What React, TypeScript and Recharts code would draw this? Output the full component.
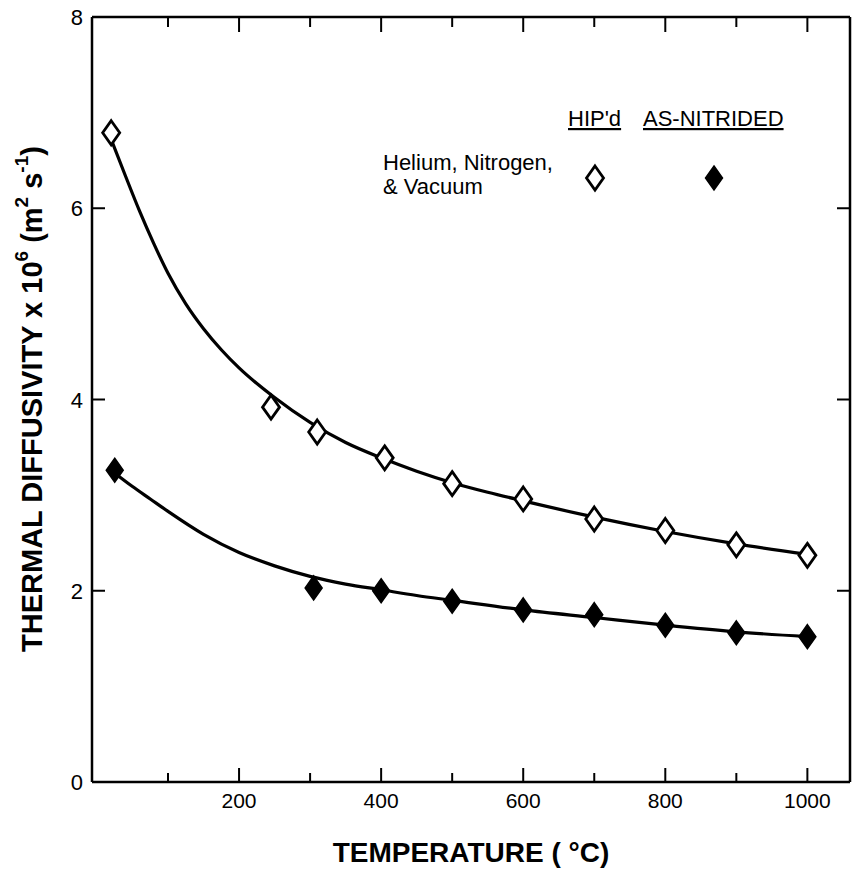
import React from "react";
import { ComposedChart, Customized, Line, Scatter, XAxis, YAxis } from "recharts";

// fitted curves
const hipFitT = [20, 40, 60, 80, 100, 125, 150, 175, 200, 250, 300, 350, 400, 450, 500, 550, 600, 700, 800, 900, 1000];
const hipFitV = [6.72, 6.34, 5.97, 5.63, 5.32, 5.0, 4.74, 4.52, 4.33, 4.02, 3.76, 3.55, 3.39, 3.25, 3.13, 3.03, 2.94, 2.77, 2.62, 2.49, 2.38];
const nitFitT = [25, 50, 75, 100, 150, 200, 250, 300, 350, 400, 450, 500, 600, 700, 800, 900, 1000];
const nitFitV = [3.23, 3.09, 2.96, 2.83, 2.59, 2.4, 2.26, 2.15, 2.07, 2.01, 1.95, 1.9, 1.8, 1.72, 1.64, 1.57, 1.52];

// measured points
const hipT = [20, 245, 310, 405, 500, 600, 700, 800, 900, 1000];
const hipV = [6.79, 3.92, 3.66, 3.39, 3.12, 2.96, 2.75, 2.63, 2.48, 2.37];
const nitT = [25, 305, 400, 500, 600, 700, 800, 900, 1000];
const nitV = [3.26, 2.03, 2.0, 1.89, 1.8, 1.75, 1.64, 1.56, 1.52];

const xTicks = [100, 200, 300, 400, 500, 600, 700, 800, 900, 1000];
const yTicks = [0, 2, 4, 6, 8];

const hipFit = hipFitT.map((t, i) => ({ t, v: hipFitV[i] }));
const nitFit = nitFitT.map((t, i) => ({ t, v: nitFitV[i] }));
const hipPts = hipT.map((t, i) => ({ t, v: hipV[i] }));
const nitPts = nitT.map((t, i) => ({ t, v: nitV[i] }));

const W = 857;
const H = 873;
// plot box: left 92, right 850, top 17, bottom 782
const M = { top: 7, right: 2, bottom: 61, left: 52 };
const FONT = "'Liberation Sans', Arial, Helvetica, sans-serif";

function diamond(cx: number, cy: number) {
  return `M${cx},${cy - 12} L${cx + 8.5},${cy} L${cx},${cy + 12} L${cx - 8.5},${cy} Z`;
}

const OpenDiamond = (p: any) => <path d={diamond(p.cx, p.cy)} fill="#fff" stroke="#000" strokeWidth={2.8} />;
const FilledDiamond = (p: any) => <path d={diamond(p.cx, p.cy)} fill="#000" stroke="#000" strokeWidth={1.5} />;

const BottomTick = (p: any) => {
  const v = p.payload.value;
  const major = v % 200 === 0;
  return (
    <g>
      <line x1={p.x} y1={p.y} x2={p.x} y2={p.y - (major ? 14 : 9)} stroke="#000" strokeWidth={2} />
      {major && (
        <text x={p.x} y={p.y + 26} textAnchor="middle" fontSize={21} fontFamily={FONT} fill="#000">
          {v}
        </text>
      )}
    </g>
  );
};

const TopTick = (p: any) => {
  const major = p.payload.value % 200 === 0;
  return <line x1={p.x} y1={p.y} x2={p.x} y2={p.y + (major ? 15 : 10)} stroke="#000" strokeWidth={2} />;
};

const LeftTick = (p: any) => (
  <g>
    <line x1={p.x} y1={p.y} x2={p.x + 13} y2={p.y} stroke="#000" strokeWidth={2} />
    <text x={p.x - 9} y={p.y + 8} textAnchor="end" fontSize={22} fontFamily={FONT} fill="#000">
      {p.payload.value}
    </text>
  </g>
);

const RightTick = (p: any) => <line x1={p.x} y1={p.y} x2={p.x - 13} y2={p.y} stroke="#000" strokeWidth={2} />;

const Decorations = () => {
  const xc = 471;
  const yc = 399;
  return (
    <g fontFamily={FONT} fill="#000">
      <text x={xc} y={862} textAnchor="middle" fontSize={28} fontWeight="bold">
        TEMPERATURE ( °C)
      </text>
      <text
        x={32}
        y={yc}
        transform={`rotate(-90, 32, ${yc})`}
        textAnchor="middle"
        dominantBaseline="central"
        fontSize={29}
        fontWeight="bold"
      >
        THERMAL DIFFUSIVITY x 10
        <tspan dy={-11} fontSize={19}>6</tspan>
        <tspan dy={11}> (m</tspan>
        <tspan dy={-11} fontSize={19}>2</tspan>
        <tspan dy={11}> s</tspan>
        <tspan dy={-11} fontSize={19}>-1</tspan>
        <tspan dy={11}>)</tspan>
      </text>
      <text x={568} y={126} fontSize={22} textDecoration="underline">
        HIP'd
      </text>
      <text x={643} y={126} fontSize={22} textDecoration="underline">
        AS-NITRIDED
      </text>
      <text x={383} y={170} fontSize={22}>
        Helium, Nitrogen,
      </text>
      <text x={383} y={194} fontSize={22}>
        &amp; Vacuum
      </text>
      <path d={diamond(595, 178)} fill="#fff" stroke="#000" strokeWidth={2.8} />
      <path d={diamond(714, 178)} fill="#000" stroke="#000" strokeWidth={1.5} />
    </g>
  );
};

export default function App() {
  return (
    <div style={{ position: "absolute", left: 0, top: 0, width: W, height: H, background: "#fff" }}>
      <ComposedChart width={W} height={H} margin={M}>
        <XAxis
          xAxisId="b"
          type="number"
          dataKey="t"
          domain={[-7, 1060]}
          ticks={xTicks}
          height={30}
          tickSize={0}
          tickMargin={0}
          tickLine={false}
          tick={<BottomTick />}
          axisLine={{ stroke: "#000", strokeWidth: 2.5 }}
          allowDataOverflow
        />
        <XAxis
          xAxisId="t"
          orientation="top"
          type="number"
          dataKey="t"
          domain={[-7, 1060]}
          ticks={xTicks}
          height={10}
          tickSize={0}
          tickMargin={0}
          tickLine={false}
          tick={<TopTick />}
          axisLine={{ stroke: "#000", strokeWidth: 2.5 }}
          allowDataOverflow
        />
        <YAxis
          yAxisId="l"
          type="number"
          domain={[0, 8]}
          ticks={yTicks}
          width={40}
          tickSize={0}
          tickMargin={0}
          tickLine={false}
          tick={<LeftTick />}
          axisLine={{ stroke: "#000", strokeWidth: 2.5 }}
          allowDataOverflow
        />
        <YAxis
          yAxisId="r"
          orientation="right"
          type="number"
          domain={[0, 8]}
          ticks={yTicks}
          width={5}
          tickSize={0}
          tickMargin={0}
          tickLine={false}
          tick={<RightTick />}
          axisLine={{ stroke: "#000", strokeWidth: 2.5 }}
          allowDataOverflow
        />
        <Line
          xAxisId="b"
          yAxisId="l"
          data={hipFit}
          dataKey="v"
          type="monotone"
          stroke="#000"
          strokeWidth={3.2}
          dot={false}
          isAnimationActive={false}
        />
        <Line
          xAxisId="b"
          yAxisId="l"
          data={nitFit}
          dataKey="v"
          type="monotone"
          stroke="#000"
          strokeWidth={3.2}
          dot={false}
          isAnimationActive={false}
        />
        <Scatter xAxisId="b" yAxisId="l" data={hipPts} dataKey="v" shape={OpenDiamond} isAnimationActive={false} />
        <Scatter xAxisId="b" yAxisId="l" data={nitPts} dataKey="v" shape={FilledDiamond} isAnimationActive={false} />
        <Customized component={Decorations} />
      </ComposedChart>
    </div>
  );
}
